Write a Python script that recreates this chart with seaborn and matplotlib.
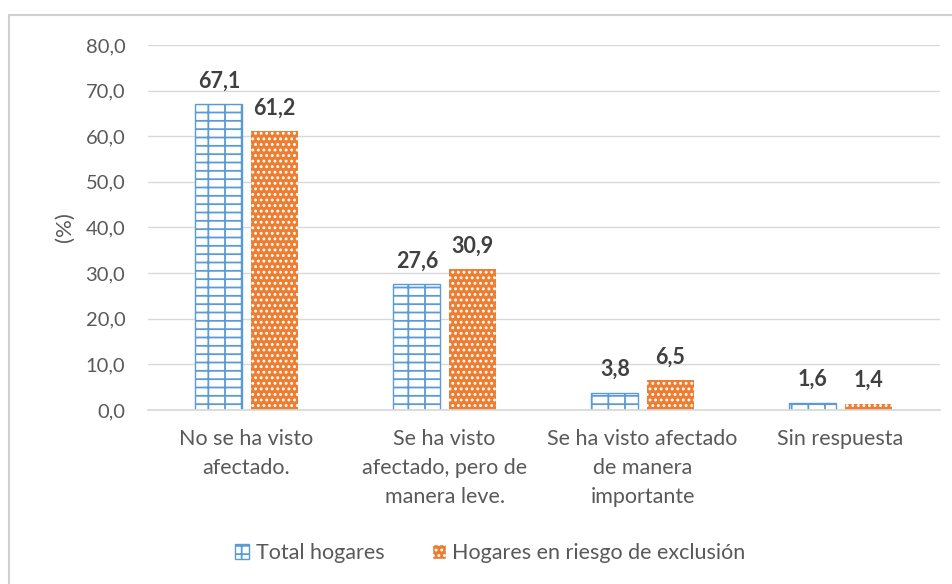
import matplotlib
matplotlib.use("Agg")
import matplotlib.pyplot as plt
import seaborn as sns
import pandas as pd
from matplotlib.patches import Rectangle, Patch

categories = ["No se ha visto\nafectado.", "Se ha visto\nafectado, pero de\nmanera leve.",
              "Se ha visto afectado\nde manera\nimportante", "Sin respuesta"]
series_names = ["Total hogares", "Hogares en riesgo de exclusión"]
total_vals = [67.1, 27.6, 3.8, 1.6]
riesgo_vals = [61.2, 30.9, 6.5, 1.4]
yticks = [0, 10, 20, 30, 40, 50, 60, 70, 80]

sns.set_theme(style="white")
plt.rcParams['font.family'] = ['Lato', 'DejaVu Sans']
plt.rcParams['hatch.linewidth'] = 1.3

df = pd.DataFrame({
    "cat": categories * 2,
    "serie": [series_names[0]] * 4 + [series_names[1]] * 4,
    "val": total_vals + riesgo_vals,
})

blue = "#5B9BD5"
orange = "#ED7D31"
txt = "#595959"

fig = plt.figure(figsize=(9.52, 5.84), dpi=100)
ax = fig.add_axes([0.155, 0.298, 0.832, 0.625])
sns.barplot(data=df, x="cat", y="val", hue="serie", order=categories,
            hue_order=series_names, palette=[blue, orange], width=0.56, gap=0.15,
            ax=ax, legend=False, saturation=1)

n = len(categories)
for i, bar in enumerate(ax.patches[:2 * n]):
    if i < n:
        bar.set_facecolor("white")
        bar.set_edgecolor(blue)
        bar.set_hatch("--|")
        bar.set_linewidth(1.0)
    else:
        bar.set_facecolor(orange)
        bar.set_edgecolor("white")
        bar.set_hatch("...")
        bar.set_linewidth(0)

for cont in ax.containers:
    ax.bar_label(cont, labels=[f"{v:.1f}".replace(".", ",") for v in cont.datavalues],
                 padding=9, fontsize=15.5, fontweight="bold", color="#404040")

ax.set_ylim(0, 80)
ax.set_yticks(yticks)
ax.set_yticklabels([f"{v:.1f}".replace(".", ",") for v in yticks], fontsize=14.5, color=txt)
ax.set_xlabel("")
ax.set_ylabel("(%)", fontsize=16, color=txt, labelpad=8)
ax.tick_params(axis="x", labelsize=15.5, colors=txt, pad=14, length=0)
ax.tick_params(axis="y", length=0, pad=16)
for lbl in ax.get_xticklabels():
    lbl.set_linespacing(1.55)
ax.yaxis.grid(True, color="#D9D9D9", linewidth=1)
ax.set_axisbelow(True)
for s in ["top", "right", "left"]:
    ax.spines[s].set_visible(False)
ax.spines["bottom"].set_color("#D9D9D9")
ax.set_xlim(-0.5, n - 0.5)

handles = [Patch(facecolor="white", edgecolor=blue, hatch="--|", label=series_names[0]),
           Patch(facecolor=orange, edgecolor="white", hatch="...", label=series_names[1])]
fig.legend(handles=handles, loc="center", bbox_to_anchor=(0.515, 0.053), ncol=2,
           frameon=False, fontsize=15.5, labelcolor=txt, handlelength=0.65,
           handleheight=0.65, columnspacing=2.2, handletextpad=0.3)

fig.patches.append(Rectangle((0.009, -0.01), 1.0, 0.985, transform=fig.transFigure,
                             fill=False, edgecolor="#D0D0D0", linewidth=1.5))

fig.savefig("out.png", dpi=100)
